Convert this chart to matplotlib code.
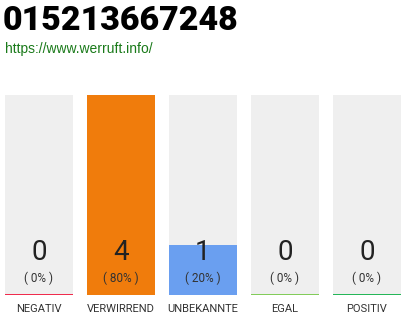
import matplotlib
matplotlib.use("Agg")
import matplotlib.pyplot as plt

title = "015213667248"
url = "https://www.werruft.info/"
categories = ["NEGATIV", "VERWIRREND", "UNBEKANNTE", "EGAL", "POSITIV"]
counts = [0, 4, 1, 0, 0]
percents = [0, 80, 20, 0, 0]
bar_colors = ["#f0183c", "#f07c0c", "#6a9ff0", "#77c94a", "#10b048"]

fig = plt.figure(figsize=(4.1, 3.2), dpi=100, facecolor="white")
W, H = 410, 320

fig.text(3 / W, 1 - 21 / H, title, fontsize=24.5, fontweight="heavy", family="Roboto",
         va="center", ha="left", color="black")
fig.text(5 / W, 1 - 49 / H, url, fontsize=10, family="Liberation Sans",
         va="center", ha="left", color="#1a7a1a")

ax = fig.add_axes([5 / W, 25 / H, 396 / W, 200 / H])
half = 34 / 82
ax.set_xlim(-half, len(categories) - 1 + half)
ax.set_ylim(0, max(counts))
ax.axis("off")

x = range(len(categories))
ax.bar(x, [max(counts)] * len(categories), width=2 * half, color="#efefef", zorder=1)
ax.bar(x, counts, width=2 * half, color=bar_colors, zorder=2)
for i, c in enumerate(categories):
    ax.plot([i - half, i + half], [0, 0], color=bar_colors[i], lw=1.3, zorder=3,
            solid_capstyle="butt")
    ax.text(i, 0.84, str(counts[i]), ha="center", va="center", fontsize=20,
            family="Roboto", fontweight="normal", color="#222222", zorder=4)
    ax.text(i, 0.34, "( %d%% )" % percents[i], ha="center", va="center", fontsize=8.5,
            family="Roboto", fontweight="normal", color="#333333", zorder=4)
    ax.text(i, -0.27, c, ha="center", va="center", fontsize=8, family="Roboto",
            fontweight="normal", color="#333333", clip_on=False)

fig.savefig("out.png", dpi=100, facecolor="white")
